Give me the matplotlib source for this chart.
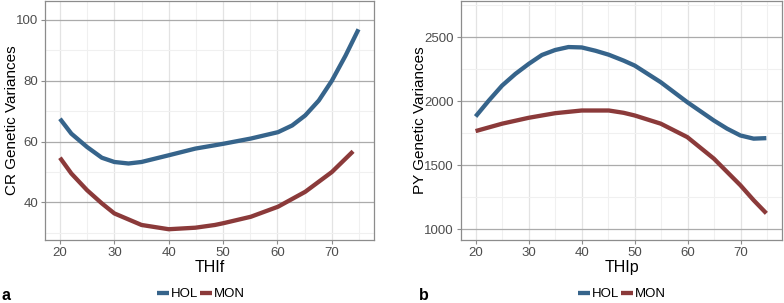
import matplotlib.pyplot as plt
from matplotlib.ticker import MultipleLocator

plt.rcParams['font.family'] = ['Liberation Sans', 'DejaVu Sans']

# panel a: CR genetic variances vs THIf
thif_hol = [20, 22.1, 25, 27.7, 30, 32.6, 35, 40, 44.9, 48.5, 50.1, 55.1, 60.1, 62.7, 65.1, 67.6, 70, 72.5, 74.9]
cr_hol = [67.5, 62.6, 58.2, 54.7, 53.3, 52.8, 53.3, 55.5, 57.7, 58.8, 59.3, 61.0, 63.1, 65.3, 68.6, 73.5, 80.0, 88.2, 96.9]
thif_mon = [20, 22.1, 25, 27.7, 30, 35, 40, 44.9, 48.5, 50.1, 55.1, 60.1, 65.1, 70, 73.9]
cr_mon = [54.7, 49.5, 44.0, 39.7, 36.4, 32.6, 31.2, 31.7, 32.6, 33.2, 35.3, 38.6, 43.5, 50.0, 56.8]

# panel b: PY genetic variances vs THIp
thip_hol = [20, 22.5, 25, 27.5, 30, 32.5, 35, 37.5, 40, 42.6, 45.1, 47.9, 50, 54.9, 59.9, 64.9, 67.4, 69.9, 72.4, 74.8]
py_hol = [1882, 2007, 2124, 2215, 2293, 2363, 2402, 2425, 2422, 2396, 2365, 2319, 2280, 2150, 1994, 1851, 1787, 1734, 1709, 1713]
thip_mon = [20, 25, 30, 35, 40, 45.1, 47.9, 50, 54.9, 59.9, 64.9, 67.4, 69.9, 72.4, 74.8]
py_mon = [1768, 1826, 1872, 1908, 1929, 1929, 1911, 1890, 1826, 1721, 1553, 1449, 1345, 1228, 1125]

breeds = ['HOL', 'MON']
colors = {'HOL': '#36648B', 'MON': '#8B3A3A'}

W, H = 784, 303
fig = plt.figure(figsize=(W / 100, H / 100), dpi=100)


def px_axes(x0, x1, y0, y1):
    return fig.add_axes([x0 / W, 1 - y1 / H, (x1 - x0) / W, (y1 - y0) / H])


def style(ax, xlabel, ylabel, ylim, ymajor, yminor, ylab_x):
    ax.set_xlim(17.25, 77.75)
    ax.set_ylim(*ylim)
    ax.xaxis.set_major_locator(MultipleLocator(10))
    ax.xaxis.set_minor_locator(MultipleLocator(5))
    ax.yaxis.set_major_locator(MultipleLocator(ymajor))
    ax.yaxis.set_minor_locator(MultipleLocator(yminor))
    ax.grid(which='minor', color='#f0f0f0', linewidth=0.8)
    ax.grid(which='major', axis='x', color='#e3e3e3', linewidth=0.9)
    ax.grid(which='major', axis='y', color='#ababab', linewidth=0.9)
    ax.set_axisbelow(True)
    for s in ax.spines.values():
        s.set_color('#8c8c8c')
        s.set_linewidth(0.9)
    ax.tick_params(which='major', length=3, color='#8c8c8c', labelsize=9.5,
                   labelcolor='#4d4d4d', pad=2)
    ax.tick_params(which='minor', length=0)
    ax.set_xlabel(xlabel, fontsize=11.5, labelpad=1)
    ax.set_ylabel(ylabel, fontsize=11, va='center')
    ax.yaxis.set_label_coords(ylab_x, 0.5)


def draw(ax, x, y, name):
    ax.plot(x, y, color=colors[name], lw=3.1, label=name,
            solid_capstyle='butt', solid_joinstyle='round')


ax1 = px_axes(45, 374, 1, 240)
draw(ax1, thif_hol, cr_hol, 'HOL')
draw(ax1, thif_mon, cr_mon, 'MON')
style(ax1, 'THIf', 'CR Genetic Variances', (27.66, 106.2), 20, 10, (12 - 45) / 329)

ax2 = px_axes(461, 782, 1, 240)
draw(ax2, thip_hol, py_hol, 'HOL')
draw(ax2, thip_mon, py_mon, 'MON')
style(ax2, 'THIp', 'PY Genetic Variances', (916.7, 2785), 500, 250, (420 - 461) / 321)

for ax, cx, tag, tx in [(ax1, 201, 'a', 2), (ax2, 622, 'b', 419)]:
    fig.legend(handles=ax.get_lines(), labels=breeds, loc='center',
               bbox_to_anchor=(cx / W, 1 - 294 / H), ncol=2, frameon=False,
               fontsize=9.5, handlelength=0.9, handletextpad=0.15,
               columnspacing=0.15, borderpad=0)
    fig.text(tx / W, 1 - 295 / H, tag, fontsize=11.5, fontweight='bold',
             ha='left', va='center')

fig.savefig('out.png', dpi=100)
